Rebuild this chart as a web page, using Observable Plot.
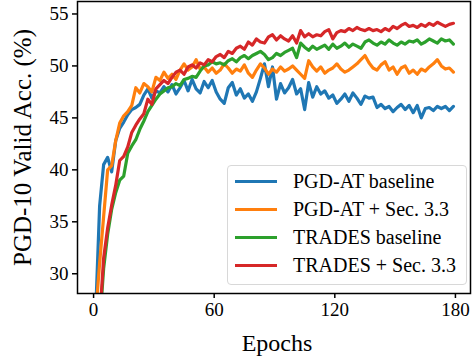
<!DOCTYPE html>
<html>
<head>
<meta charset="utf-8">
<script src="https://cdn.jsdelivr.net/npm/d3@7"></script>
<script src="https://cdn.jsdelivr.net/npm/@observablehq/plot@0.6"></script>
<style>
  html, body { margin: 0; padding: 0; background: #fff; }
  #wrap { position: relative; width: 472px; height: 360px; font-family: "Liberation Serif", "DejaVu Serif", serif; }
  #legend { position: absolute; left: 227px; top: 165px; width: 240px; height: 120px; box-sizing: border-box;
    border: 1px solid #d8d8d8; border-radius: 4px; background: rgba(255,255,255,0.85);
    font-family: "Liberation Serif", serif; font-size: 20px; color: #000; }
  .item { position: absolute; left: 7px; height: 24px; display: flex; align-items: center; }
  .sw { width: 42px; height: 3px; margin-right: 16px; }
</style>
</head>
<body>
<div id="wrap"></div>
<script>
const seriesNames = ["PGD-AT baseline", "PGD-AT + Sec. 3.3", "TRADES baseline", "TRADES + Sec. 3.3"];
const epochs = d3.range(1, 180, 2);
const pgdBaseline = [26,36.5,40.5,41.2,39.8,42.8,44.0,44.6,45.3,45.8,46.0,46.3,47.2,47.8,46.9,47.6,47.4,48.0,47.5,48.2,
  47.3,47.9,48.6,47.6,48.7,47.8,47.4,48.5,47.9,48.6,47.5,46.8,46.4,47.9,48.4,47.2,47.8,46.9,47.3,46.6,
  47.5,48.8,50.2,48.0,49.9,46.8,48.3,47.4,47.9,48.7,47.3,47.8,45.8,48.4,47.0,48.0,47.3,47.6,46.9,47.2,
  46.4,46.8,47.3,46.6,47.4,46.9,46.3,47.1,46.9,47.0,46.0,46.3,45.9,46.1,45.6,46.0,46.3,45.8,46.2,45.5,
  46.2,45.0,45.9,46.0,45.7,46.1,45.9,46.1,45.7,46.1];
const pgdSec33 = [26,31.0,35.5,40.0,40.4,42.8,44.5,45.2,45.6,46.2,47.9,47.4,48.3,48.0,47.5,48.9,48.6,49.4,48.8,49.2,
  48.7,49.6,50.2,49.6,49.9,50.6,49.7,49.9,49.4,49.8,49.3,49.6,50.2,49.8,49.3,49.7,49.5,50.1,49.3,48.9,
  49.6,50.2,49.8,49.2,49.7,49.4,49.9,49.5,49.7,50.0,49.6,49.2,48.8,50.5,49.9,49.5,49.9,49.3,49.6,49.8,
  50.2,49.7,49.4,49.6,49.9,50.2,50.6,51.0,50.3,49.8,49.6,50.1,50.4,49.6,49.9,49.2,49.8,50.0,49.3,49.6,
  49.2,49.7,49.5,49.9,50.2,50.6,50.0,49.7,49.8,49.4];
const tradesBaseline = [20,25,30.5,33.8,36.2,37.8,39.0,39.4,41.6,42.3,42.9,43.9,44.7,45.6,46.2,46.8,47.3,47.6,47.9,48.0,
  48.3,48.1,48.7,48.8,49.0,48.9,49.5,50.0,50.1,50.4,50.2,50.3,50.1,50.5,50.7,50.4,50.8,51.0,50.7,51.0,
  51.2,51.4,51.1,50.6,50.8,51.2,51.0,51.3,51.5,51.7,50.8,52.2,51.8,51.5,51.9,51.6,51.8,52.0,51.6,52.1,
  51.7,51.9,52.2,51.8,52.1,51.9,51.7,52.3,52.5,52.2,52.0,52.3,52.1,52.5,52.2,52.0,52.3,52.1,52.4,52.3,
  52.5,52.1,52.3,52.6,52.4,52.2,52.6,52.4,52.5,52.1];
const tradesSec33 = [20,25.5,31.5,34.4,36.6,38.5,40.9,41.3,42.2,43.6,44.3,44.9,45.4,46.8,46.3,47.8,48.2,48.6,48.3,48.9,
  49.4,49.6,49.2,49.9,50.1,49.8,50.3,50.1,50.6,50.4,50.9,51.1,50.8,51.4,51.2,51.7,51.9,51.6,52.3,52.0,
  52.6,52.3,52.2,52.8,53.0,52.5,52.9,52.6,52.4,52.9,52.2,53.4,52.8,53.1,52.8,53.0,52.9,53.3,53.5,52.6,
  53.2,53.4,53.3,53.6,53.4,53.7,53.5,53.4,53.6,53.4,53.5,53.3,53.6,53.4,53.8,53.6,53.9,54.1,53.8,53.9,
  53.7,54.0,53.8,54.1,53.9,54.2,54.0,53.8,54.0,54.1];
const yTicks = [30, 35, 40, 45, 50, 55];
const xTicks = [0, 60, 120, 180];
const yLabel = "PGD-10 Valid Acc. (%)";
const xLabel = "Epochs";

const colors = ["#1f77b4", "#ff7f0e", "#2ca02c", "#d62728"];
const allSeries = [pgdBaseline, pgdSec33, tradesBaseline, tradesSec33];
const data = allSeries.flatMap((vals, i) => vals.map((v, j) => ({series: seriesNames[i], epoch: epochs[j], acc: v})));

const font = "Liberation Serif, DejaVu Serif, serif";
const chart = Plot.plot({
  width: 472, height: 360,
  marginLeft: 77, marginRight: 2, marginTop: 1, marginBottom: 67,
  style: {fontFamily: font, fontSize: "19px", color: "#000", background: "#fff"},
  x: {domain: [-8, 187.5]},
  y: {domain: [28.1, 56.2]},
  color: {domain: seriesNames, range: colors},
  marks: [
    Plot.line(data, {x: "epoch", y: "acc", z: "series", stroke: "series", strokeWidth: 3.2, strokeLinejoin: "round", clip: true}),
    Plot.frame({stroke: "#000", strokeWidth: 1.5}),
    Plot.axisY({ticks: yTicks, tickSize: 5, tickPadding: 4, strokeWidth: 1.5, label: null, fontSize: 19}),
    Plot.axisX({ticks: xTicks, tickSize: 5, tickPadding: 4, strokeWidth: 1.5, label: null, fontSize: 19}),
    Plot.text([yLabel], {text: d => d, frameAnchor: "left", dx: -55, rotate: -90, fontSize: 25, textAnchor: "middle", lineAnchor: "middle"}),
    Plot.text([xLabel], {text: d => d, frameAnchor: "bottom", dx: 3, dy: 50, fontSize: 24, textAnchor: "middle", lineAnchor: "middle"})
  ]
});
const wrap = document.getElementById("wrap");
wrap.appendChild(chart);

const legend = document.createElement("div");
legend.id = "legend";
seriesNames.forEach((name, i) => {
  const item = document.createElement("div");
  item.className = "item";
  item.style.top = (3 + i * 28.3) + "px";
  const sw = document.createElement("div");
  sw.className = "sw";
  sw.style.background = colors[i];
  const t = document.createElement("span");
  t.textContent = name;
  item.appendChild(sw); item.appendChild(t);
  legend.appendChild(item);
});
wrap.appendChild(legend);
</script>
</body>
</html>
